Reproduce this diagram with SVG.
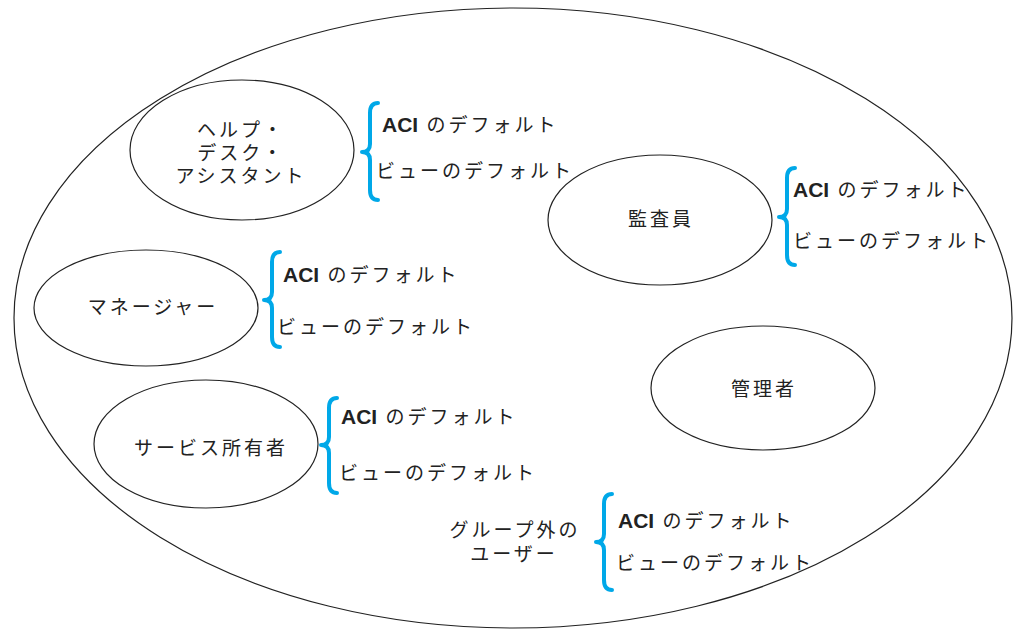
<svg xmlns="http://www.w3.org/2000/svg" width="1015" height="629" viewBox="0 0 1015 629">
<style>
.e{fill:none;stroke:#222;stroke-width:1.2}
.t{font-family:"Liberation Sans","Noto Sans CJK JP",sans-serif;font-size:19px;fill:#222;letter-spacing:3px}
.c{text-anchor:middle}
.b{font-weight:bold;letter-spacing:0;font-size:21px}
.br{fill:none;stroke:#00a8e8;stroke-width:4;stroke-linecap:round;stroke-linejoin:round}
</style>
<rect width="1015" height="629" fill="#fff"/>
<g id="outer"><ellipse class="e" cx="513" cy="318" rx="499" ry="310"/></g>
<g id="helpdesk">
<ellipse class="e" cx="242" cy="150" rx="112" ry="70"/>
<text class="t c" x="241" y="137">ヘルプ・</text>
<text class="t c" x="241" y="160">デスク・</text>
<text class="t c" x="241" y="183">アシスタント</text>
</g>
<g id="auditor">
<ellipse class="e" cx="660" cy="220" rx="112" ry="65"/>
<text class="t c" x="661" y="226">監査員</text>
</g>
<g id="manager">
<ellipse class="e" cx="146" cy="308" rx="112" ry="58"/>
<text class="t c" x="153" y="314">マネージャー</text>
</g>
<g id="admin">
<ellipse class="e" cx="763" cy="388" rx="112" ry="62"/>
<text class="t c" x="764" y="396">管理者</text>
</g>
<g id="serviceowner">
<ellipse class="e" cx="206" cy="444" rx="112" ry="64"/>
<text class="t c" x="211" y="455">サービス所有者</text>
</g>
<g id="outside">
<text class="t c" x="515" y="537">グループ外の</text>
<text class="t c" x="514" y="561">ユーザー</text>
</g>
<g id="braces">
<path class="br" d="M378,103 Q370,103 370,113 L370,144 Q370,152 362,152 Q370,152 370,160 L370,190 Q370,200 378,200"/>
<path class="br" d="M795,168 Q787,168 787,178 L787,209 Q787,217 779,217 Q787,217 787,225 L787,255 Q787,265 795,265"/>
<path class="br" d="M280,252 Q272,252 272,262 L272,292 Q272,300 264,300 Q272,300 272,308 L272,337 Q272,347 280,347"/>
<path class="br" d="M337,398 Q329,398 329,408 L329,437 Q329,445 321,445 Q329,445 329,453 L329,483 Q329,493 337,493"/>
<path class="br" d="M612,494 Q604,494 604,504 L604,534 Q604,542 596,542 Q604,542 604,550 L604,580 Q604,590 612,590"/>
</g>
<g id="labels">
<text class="t" x="382" y="132"><tspan class="b">ACI</tspan> のデフォルト</text>
<text class="t" x="376" y="178">ビューのデフォルト</text>
<text class="t" x="793" y="197"><tspan class="b">ACI</tspan> のデフォルト</text>
<text class="t" x="793" y="248">ビューのデフォルト</text>
<text class="t" x="283" y="282"><tspan class="b">ACI</tspan> のデフォルト</text>
<text class="t" x="277" y="334">ビューのデフォルト</text>
<text class="t" x="341" y="424"><tspan class="b">ACI</tspan> のデフォルト</text>
<text class="t" x="339" y="480">ビューのデフォルト</text>
<text class="t" x="618" y="528"><tspan class="b">ACI</tspan> のデフォルト</text>
<text class="t" x="616" y="570">ビューのデフォルト</text>
</g>
</svg>
